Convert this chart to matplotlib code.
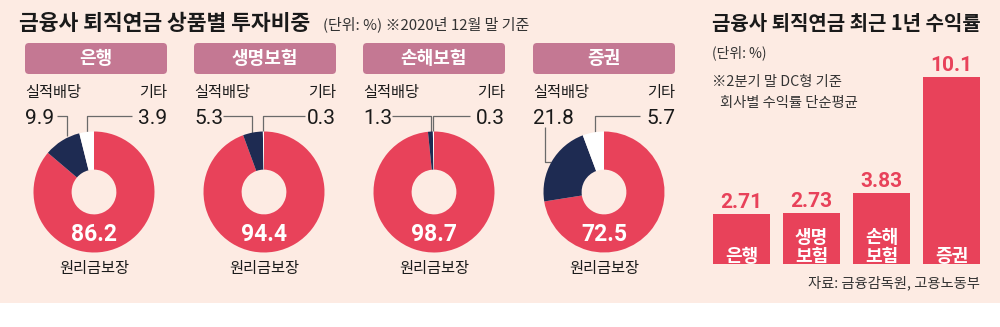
import matplotlib
matplotlib.use('Agg')
import matplotlib.pyplot as plt
from matplotlib.patches import Rectangle, FancyBboxPatch

# ---------------- data ----------------
sectors = ['은행', '생명보험', '손해보험', '증권']
guaranteed = [86.2, 94.4, 98.7, 72.5]     # 원리금보장
performance = [9.9, 5.3, 1.3, 21.8]       # 실적배당
others = [3.9, 0.3, 0.3, 5.7]             # 기타

bar_labels = ['은행', '생명\n보험', '손해\n보험', '증권']
returns = [2.71, 2.73, 3.83, 10.1]
return_labels = ['2.71', '2.73', '3.83', '10.1']

# ---------------- style ----------------
W, H = 1000, 327
BG = '#fdebe3'
RED = '#e8425a'
NAVY = '#1e2b52'
MAUVE = '#c47893'
DARK = '#1a1a1a'
LINEC = '#6a6a6a'
KR = ['Noto Sans CJK KR', 'DejaVu Sans']
NUM = ['Roboto', 'Noto Sans CJK KR', 'DejaVu Sans']

fig = plt.figure(figsize=(W / 100, H / 100), dpi=100)
fig.patch.set_facecolor('white')

# background axes in pixel coordinates (y downward)
bg = fig.add_axes([0, 0, 1, 1])
bg.set_xlim(0, W)
bg.set_ylim(H, 0)
bg.axis('off')
bg.add_patch(Rectangle((0, 0), W, 303, facecolor=BG, edgecolor='none'))

def t(x, y, s, **kw):
    bg.text(x, y, s, **kw)

# titles
t(19, 23, '금융사 퇴직연금 상품별 투자비중', family=KR, fontsize=15.5,
  fontweight='bold', color=DARK, ha='left', va='center')
t(323, 24, '(단위: %) ※2020년 12월 말 기준', family=KR, fontsize=10.8,
  color='#333333', ha='left', va='center')

t(712, 24, '금융사 퇴직연금 최근 1년 수익률', family=KR, fontsize=14.4,
  fontweight='bold', color=DARK, ha='left', va='center')
t(712, 53, '(단위: %)', family=KR, fontsize=10, color='#333333',
  ha='left', va='center')
t(712, 82, '※2분기 말 DC형 기준', family=KR, fontsize=10.3, color='#333333',
  ha='left', va='center')
t(720, 103, '회사별 수익률 단순평균', family=KR, fontsize=10.3, color='#333333',
  ha='left', va='center')
t(980, 283, '자료: 금융감독원, 고용노동부', family=KR, fontsize=10.3,
  color='#333333', ha='right', va='center')

# ---------------- donuts ----------------
box_left = [25, 194, 363, 533]
box_w = 142
centers_x = [94, 264, 434, 604]
cy = 192
R = 60.5

leaders = [
    ([(57, 116), (67, 116), (67, 136)], [(132, 116), (87, 116), (87, 133)]),
    ([(223, 116), (252, 116), (252, 134)], [(305, 116), (263, 116), (263, 133)]),
    ([(392, 116), (431, 116), (431, 134)], [(470, 116), (433, 116), (433, 133)]),
    ([(545, 127), (545, 162), (551, 162)], [(640, 116), (595, 116), (595, 133)]),
]

for i in range(4):
    bl = box_left[i]
    bg.add_patch(FancyBboxPatch((bl, 43), box_w, 31,
                                boxstyle='round,pad=0,rounding_size=4',
                                facecolor=MAUVE, edgecolor='none'))
    t(bl + box_w / 2, 58.5, sectors[i], family=KR, fontsize=13,
      fontweight='bold', color='white', ha='center', va='center')
    t(bl, 92, '실적배당', family=KR, fontsize=11, color=DARK,
      ha='left', va='center')
    t(bl + box_w, 92, '기타', family=KR, fontsize=11, color=DARK,
      ha='right', va='center')
    t(bl, 118, f'{performance[i]}', family=NUM, fontsize=15, color=DARK,
      ha='left', va='center')
    t(bl + box_w, 118, f'{others[i]}', family=NUM, fontsize=15, color=DARK,
      ha='right', va='center')
    for pts in leaders[i]:
        xs, ys = zip(*pts)
        bg.plot(xs, ys, color=LINEC, lw=0.9, solid_capstyle='butt')
    t(centers_x[i], 268, '원리금보장', family=KR, fontsize=11, color=DARK,
      ha='center', va='center')

    cx = centers_x[i]
    ax = fig.add_axes([(cx - R) / W, (H - cy - R) / H, 2 * R / W, 2 * R / H])
    ax.pie([guaranteed[i], performance[i], others[i]],
           colors=[RED, NAVY, 'white'], startangle=90, counterclock=False,
           radius=1, wedgeprops=dict(width=0.63, linewidth=0))
    ax.set_xlim(-1, 1)
    ax.set_ylim(-1, 1)
    ax.text(0, -0.7, f'{guaranteed[i]}', family=NUM, fontsize=16.5,
            fontweight='bold', color='white', ha='center', va='center')

# ---------------- bars ----------------
px_per_unit = 18.5
bx0, bx1 = 706.5, 986.5
by_base, by_top = 264, 40
axb = fig.add_axes([bx0 / W, (H - by_base) / H, (bx1 - bx0) / W,
                    (by_base - by_top) / H])
axb.bar(range(4), returns, width=0.814, color=RED, linewidth=0)
axb.set_xlim(-0.5, 3.5)
axb.set_ylim(0, (by_base - by_top) / px_per_unit)
axb.axis('off')
for i, (v, lab) in enumerate(zip(returns, return_labels)):
    axb.annotate(lab, (i, v), xytext=(0, 1.5), textcoords='offset points',
                 ha='center', va='bottom', family=NUM, fontsize=15,
                 fontweight='bold', color=RED)
    axb.text(i, -0.12, bar_labels[i], ha='center', va='bottom', family=KR,
             fontsize=13, fontweight='bold', color='white', linespacing=1.02)

fig.savefig('out.png', dpi=100, facecolor='white')
